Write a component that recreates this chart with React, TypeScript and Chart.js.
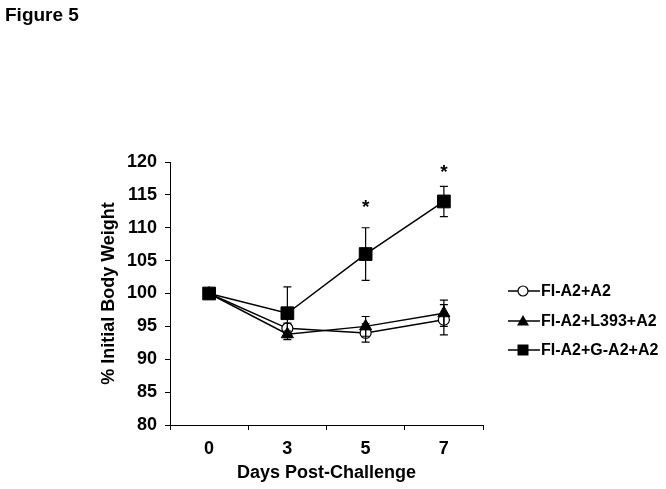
import React, { useEffect, useRef } from 'react';
import { Chart, registerables } from 'chart.js';

Chart.register(...registerables);

// ---- data ----
const days = ['0', '3', '5', '7'];
const seriesNames = ['FI-A2+A2', 'FI-A2+L393+A2', 'FI-A2+G-A2+A2'];
const fiA2 = [100, 94.7, 94.0, 96.0];
const fiA2Err = [0, 0.8, 1.4, 2.3];
const l393 = [100, 93.8, 95.0, 97.0];
const l393Err = [0, 0.5, 1.5, 2.0];
const gA2 = [100, 97.0, 106.0, 114.0];
const gA2Err = [0, 4.0, 4.0, 2.3];
const starLevels: (number | null)[] = [null, null, 113.9, 119.2];
const yMin = 80;
const yMax = 120;
const yStep = 5;

const FONT = "'Liberation Sans', Arial, sans-serif";

const errorBarsPlugin = {
  id: 'errorBars',
  afterDatasetsDraw(chart: any) {
    const ctx = chart.ctx;
    const ys = chart.scales.y;
    const errs = [fiA2Err, l393Err, gA2Err];
    ctx.save();
    ctx.strokeStyle = '#000';
    ctx.lineWidth = 1.2;
    chart.data.datasets.forEach((ds: any, i: number) => {
      const meta = chart.getDatasetMeta(i);
      meta.data.forEach((pt: any, j: number) => {
        const e = errs[i][j];
        if (!e) return;
        const v = ds.data[j];
        const yt = ys.getPixelForValue(v + e);
        const yb = ys.getPixelForValue(v - e);
        const x = pt.x;
        ctx.beginPath();
        ctx.moveTo(x, yt);
        ctx.lineTo(x, yb);
        ctx.moveTo(x - 4, yt);
        ctx.lineTo(x + 4, yt);
        ctx.moveTo(x - 4, yb);
        ctx.lineTo(x + 4, yb);
        ctx.stroke();
      });
    });
    // significance stars
    ctx.fillStyle = '#000';
    ctx.font = `bold 19px ${FONT}`;
    ctx.textAlign = 'center';
    ctx.textBaseline = 'alphabetic';
    const xs = chart.scales.x;
    starLevels.forEach((lv, j) => {
      if (lv == null) return;
      ctx.fillText('*', xs.getPixelForValue(j), ys.getPixelForValue(lv) + 11);
    });
    ctx.restore();
  },
};

const decorPlugin = {
  id: 'decor',
  afterDraw(chart: any) {
    const ctx = chart.ctx;
    ctx.save();
    ctx.fillStyle = '#000';
    ctx.font = `bold 19px ${FONT}`;
    ctx.textAlign = 'left';
    ctx.textBaseline = 'alphabetic';
    ctx.fillText('Figure 5', 5, 21);

    // legend
    const lx0 = 508, lx1 = 540, mx = 523;
    const rows = [291, 321, 350];
    ctx.font = `bold 16px ${FONT}`;
    ctx.textBaseline = 'middle';
    ctx.strokeStyle = '#000';
    ctx.lineWidth = 1.5;
    seriesNames.forEach((name, i) => {
      const y = rows[i];
      ctx.beginPath();
      ctx.moveTo(lx0, y);
      ctx.lineTo(lx1, y);
      ctx.stroke();
      ctx.beginPath();
      if (i === 0) {
        ctx.arc(mx, y, 5, 0, Math.PI * 2);
        ctx.fillStyle = '#fff';
        ctx.fill();
        ctx.lineWidth = 1.2;
        ctx.stroke();
      } else if (i === 1) {
        ctx.moveTo(mx, y - 6);
        ctx.lineTo(mx + 6, y + 4.5);
        ctx.lineTo(mx - 6, y + 4.5);
        ctx.closePath();
        ctx.fillStyle = '#000';
        ctx.fill();
      } else {
        ctx.rect(mx - 5.5, y - 5.5, 11, 11);
        ctx.fillStyle = '#000';
        ctx.fill();
      }
      ctx.lineWidth = 1.5;
      ctx.fillStyle = '#000';
      ctx.fillText(name, 541, y + 1);
    });
    ctx.restore();
  },
};

export default function App() {
  const ref = useRef<HTMLCanvasElement | null>(null);
  useEffect(() => {
    if (!ref.current) return;
    const chart = new Chart(ref.current, {
      type: 'line',
      data: {
        labels: days,
        datasets: [
          {
            label: seriesNames[0],
            data: fiA2,
            order: 3,
            borderColor: '#000',
            borderWidth: 1.5,
            pointStyle: 'circle',
            pointRadius: 5.5,
            pointBorderWidth: 1.2,
            pointBackgroundColor: '#fff',
            pointBorderColor: '#000',
          },
          {
            label: seriesNames[1],
            data: l393,
            order: 2,
            borderColor: '#000',
            borderWidth: 1.5,
            pointStyle: 'triangle',
            pointRadius: 7,
            pointBorderWidth: 1,
            pointBackgroundColor: '#000',
            pointBorderColor: '#000',
          },
          {
            label: seriesNames[2],
            data: gA2,
            order: 1,
            borderColor: '#000',
            borderWidth: 1.5,
            pointStyle: 'rect',
            pointRadius: 9,
            pointBorderWidth: 1,
            pointBackgroundColor: '#000',
            pointBorderColor: '#000',
          },
        ],
      },
      options: {
        responsive: false,
        animation: false,
        devicePixelRatio: 1,
        layout: { padding: { left: 94, top: 162, right: 183, bottom: 1 } },
        plugins: { legend: { display: false }, tooltip: { enabled: false } },
        scales: {
          x: {
            type: 'category',
            offset: true,
            grid: { display: true, offset: true, drawOnChartArea: false, drawTicks: true, tickLength: 5, color: '#000' },
            border: { color: '#000', width: 1 },
            ticks: { color: '#000', font: { family: FONT, size: 18, weight: 'bold' }, padding: 8 },
            title: { display: true, text: 'Days Post-Challenge', color: '#000', font: { family: FONT, size: 18, weight: 'bold' }, padding: { top: 4, bottom: 4 } },
            afterFit: (s: any) => { s.height = 63; },
          },
          y: {
            min: yMin,
            max: yMax,
            grid: { display: true, drawOnChartArea: false, drawTicks: true, tickLength: 5, color: '#000' },
            border: { color: '#000', width: 1 },
            ticks: { stepSize: yStep, color: '#000', font: { family: FONT, size: 18, weight: 'bold' }, padding: 8 },
            title: { display: true, text: '% Initial Body Weight', color: '#000', font: { family: FONT, size: 18, weight: 'bold' }, padding: { top: 4, bottom: 4 } },
            afterFit: (s: any) => { s.width = 76; },
          },
        },
      },
      plugins: [errorBarsPlugin, decorPlugin],
    } as any);
    return () => chart.destroy();
  }, []);
  return (
    <div style={{ position: 'fixed', left: 0, top: 0, width: 666, height: 489, background: '#fff' }}>
      <canvas ref={ref} width={666} height={489} />
    </div>
  );
}
